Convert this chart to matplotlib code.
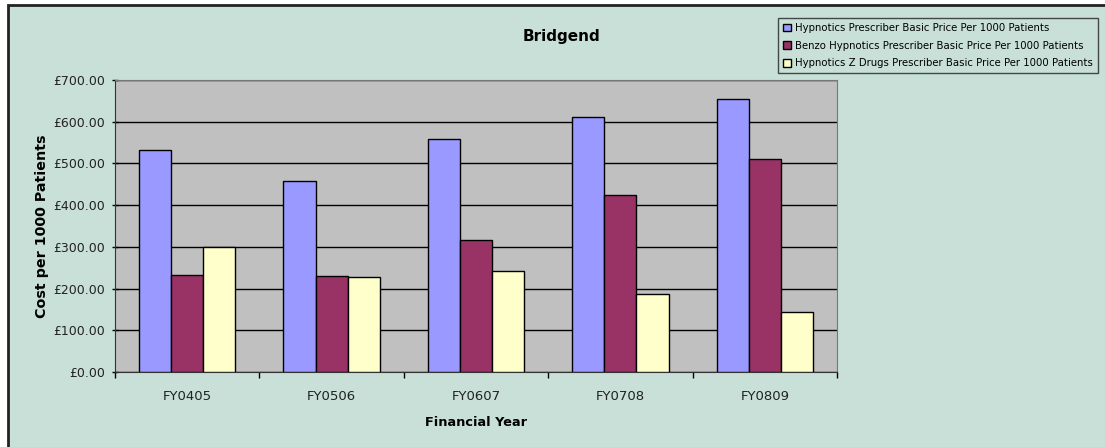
import matplotlib
matplotlib.use("Agg")
import matplotlib.pyplot as plt
import numpy as np
from matplotlib.patches import Rectangle
from matplotlib.ticker import FuncFormatter, MultipleLocator

years = ["FY0405", "FY0506", "FY0607", "FY0708", "FY0809"]
hypnotics = [533, 459, 558, 611, 655]
benzo = [233, 231, 316, 425, 511]
z_drugs = [300, 228, 242, 186, 145]

series_names = [
    "Hypnotics Prescriber Basic Price Per 1000 Patients",
    "Benzo Hypnotics Prescriber Basic Price Per 1000 Patients",
    "Hypnotics Z Drugs Prescriber Basic Price Per 1000 Patients",
]
colors = ["#9999FF", "#993366", "#FFFFCC"]
bg = "#C8E0D8"

W, H = 1105, 447
fig = plt.figure(figsize=(W / 100, H / 100), dpi=100)
fig.patch.set_facecolor("white")
# chart area with border on left/top
fig.patches.append(Rectangle((7.5 / W, -0.1), 1.2, 1 - 4.5 / H + 0.1,
                             transform=fig.transFigure, facecolor=bg,
                             edgecolor="#222222", linewidth=2, zorder=-5))

ax = fig.add_axes([115 / W, 1 - 372 / H, (837 - 115) / W, (372 - 80) / H])
ax.set_facecolor("#C0C0C0")

x = np.arange(len(years))
w = 1 / 4.5
for i, (vals, c, name) in enumerate(zip([hypnotics, benzo, z_drugs], colors, series_names)):
    ax.bar(x + (i - 1) * w, vals, width=w, color=c, edgecolor="black",
           linewidth=1, label=name, zorder=3)

ax.set_xlim(-0.5, len(years) - 0.5)
ax.set_ylim(0, 700)
ax.yaxis.set_major_locator(MultipleLocator(100))
ax.yaxis.set_major_formatter(FuncFormatter(lambda v, p: f"£{v:.2f}"))
ax.grid(axis="y", color="black", linewidth=1, zorder=1)
ax.set_axisbelow(True)

ax.set_xticks(x)
ax.set_xticklabels(years, fontsize=9.5, color="#222222")
ax.set_xticks(np.arange(-0.5, len(years)), minor=True)
ax.tick_params(axis="x", which="major", length=0, pad=13)
ax.tick_params(axis="x", which="minor", length=4, direction="out", width=1)
ax.tick_params(axis="y", length=4, direction="inout", width=1, labelsize=9,
               labelcolor="#222222", pad=5)

for side in ["top", "right"]:
    ax.spines[side].set_color("#777777")
ax.spines["left"].set_color("#333333")
ax.spines["bottom"].set_color("#333333")

ax.set_ylabel("Cost per 1000 Patients", fontsize=10.3, fontweight="bold", labelpad=3)
ax.set_xlabel("Financial Year", fontsize=9.3, fontweight="bold", labelpad=9)
fig.text(561 / W, 1 - 36 / H, "Bridgend", ha="center", va="center",
         fontsize=11, fontweight="bold")

leg = fig.legend(loc="upper left", bbox_to_anchor=(778 / W, 1 - 18 / H),
                 fontsize=7.3, frameon=True, fancybox=False, handlelength=0.8,
                 handleheight=0.8, handletextpad=0.4, borderpad=0.5,
                 labelspacing=0.75, borderaxespad=0)
leg.get_frame().set_facecolor(bg)
leg.get_frame().set_edgecolor("#222222")
leg.get_frame().set_linewidth(1)

fig.savefig("out.png", dpi=100)
